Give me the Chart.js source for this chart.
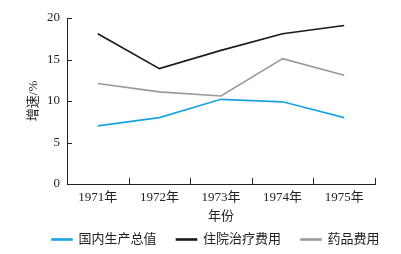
<!DOCTYPE html>
<html>
<head>
<meta charset="utf-8">
<script src="https://cdn.jsdelivr.net/npm/chart.js@4"></script>
<style>
  html, body { margin: 0; padding: 0; background: #fff; }
  #wrap { width: 401px; height: 254px; }
</style>
</head>
<body>
<div id="wrap"><canvas id="myChart" width="401" height="254"></canvas></div>
<script>
const years = ['1971年', '1972年', '1973年', '1974年', '1975年']
const gdp = [7, 8, 10.2, 9.9, 8]
const hospital = [18.1, 13.9, 16.1, 18.1, 19.1]
const drugs = [12.1, 11.1, 10.6, 15.1, 13.1]
const seriesNames = ['国内生产总值', '住院治疗费用', '药品费用']
const seriesColors = ['#1aa3dc', '#1a1a1a', '#999999']

const font = "'Liberation Serif', 'Noto Sans CJK SC', serif"
Chart.defaults.font.family = font
Chart.defaults.font.size = 13
Chart.defaults.color = '#222'

// ticks in the reference point inward, so draw them by hand from the scales
const innerTicks = {
  id: 'innerTicks',
  afterLayout(chart) {
    // legend in the reference starts further right than the chart box allows
    chart.legend.left += 32
    chart.legend.right += 32
  },
  afterDraw(chart) {
    const ctx = chart.ctx
    const x = chart.scales.x, y = chart.scales.y
    const area = chart.chartArea
    ctx.save()
    ctx.strokeStyle = '#222'
    ctx.lineWidth = 1
    ctx.beginPath()
    for (let i = 0; i <= years.length; i++) {
      const px = Math.round(x.getPixelForValue(i - 0.5)) + 0.5
      ctx.moveTo(px, area.bottom)
      ctx.lineTo(px, area.bottom - 6)
    }
    for (const t of y.ticks) {
      const py = Math.round(y.getPixelForValue(t.value)) + 0.5
      ctx.moveTo(area.left, py)
      ctx.lineTo(area.left + 5, py)
    }
    ctx.stroke()
    ctx.restore()
  }
}

const mk = (i, data) => ({
  label: seriesNames[i],
  data: data,
  borderColor: seriesColors[i],
  backgroundColor: seriesColors[i],
  borderWidth: 1.6,
  pointRadius: 0,
  tension: 0,
  fill: false
})

new Chart('myChart', {
  type: 'line',
  data: {
    labels: years,
    datasets: [mk(0, gdp), mk(1, hospital), mk(2, drugs)]
  },
  options: {
    responsive: false,
    animation: false,
    layout: { padding: { top: 18, right: 26, left: 0, bottom: -2 } },
    plugins: {
      legend: {
        position: 'bottom',
        align: 'start',
        labels: {
          boxWidth: 20,
          boxHeight: 1,
          padding: 20,
          font: { family: font, size: 13 },
          color: '#222'
        }
      },
      tooltip: { enabled: false }
    },
    scales: {
      x: {
        offset: true,
        grid: { display: false, drawTicks: false },
        border: { color: '#222', width: 1 },
        ticks: { padding: 6, font: { size: 13 }, maxRotation: 0 },
        title: { display: true, text: '年份', padding: { top: 0, bottom: -11 }, font: { size: 13 } },
        afterFit(s) { s.height = 29 }
      },
      y: {
        min: 0,
        max: 20,
        ticks: { stepSize: 5, padding: 7, font: { size: 13 } },
        grid: { display: false, drawTicks: false },
        border: { color: '#222', width: 1 },
        title: { display: true, text: '增速/%', padding: { top: 26, bottom: 0 }, font: { size: 13 } },
        afterFit(s) { s.width = 67 }
      }
    }
  },
  plugins: [innerTicks]
})
</script>
</body>
</html>
